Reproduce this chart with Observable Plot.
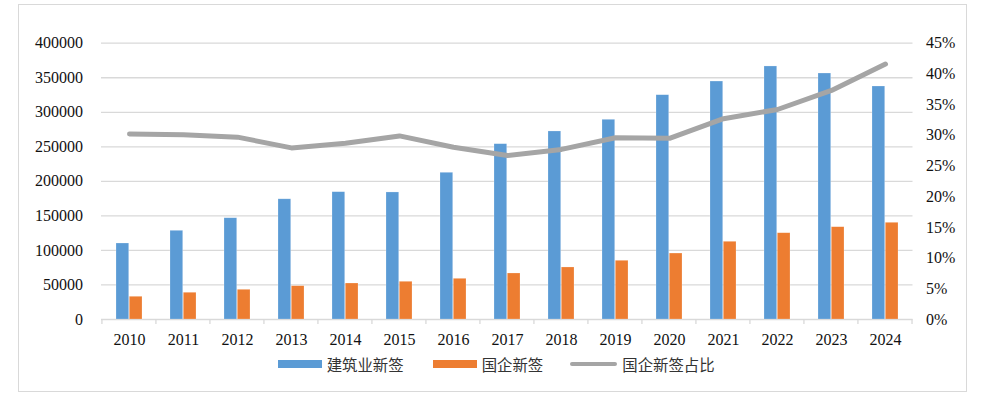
<!DOCTYPE html>
<html>
<head>
<meta charset="utf-8">
<script src="https://cdn.jsdelivr.net/npm/d3@7"></script>
<script src="https://cdn.jsdelivr.net/npm/@observablehq/plot@0.6"></script>
<style>
  html, body { margin: 0; padding: 0; background: #fff; }
  #frame { position: absolute; left: 18px; top: 4px; width: 949px; height: 388px; border: 1.3px solid #d9d9d9; box-sizing: border-box; }
  #chart { position: absolute; left: 0; top: 0; }
  #legend { position: absolute; left: 0; top: 352px; width: 989px; height: 24px; font-family: "Liberation Serif", "Noto Sans CJK SC", serif; font-size: 15.4px; color: #333; }
  .item { position: absolute; top: 0; height: 24px; display: flex; align-items: center; white-space: nowrap; }
  .sw { display: inline-block; margin-right: 5px; }
</style>
</head>
<body>
<div id="frame"></div>
<div id="chart"></div>
<div id="legend"></div>
<script>
const years = ["2010","2011","2012","2013","2014","2015","2016","2017","2018","2019","2020","2021","2022","2023","2024"];
const construction = [110000, 128400, 146600, 174000, 184300, 183900, 212400, 253800, 272200, 289100, 324700, 344500, 366300, 356100, 337300];
const soe = [32900, 38700, 43000, 48200, 52100, 54600, 58900, 66600, 75300, 85000, 95500, 112500, 124900, 133600, 140000];
const share = [30.2, 30.1, 29.7, 27.95, 28.7, 29.9, 28.05, 26.7, 27.7, 29.6, 29.5, 32.7, 34.2, 37.3, 41.6];
const leftTicks = [0, 50000, 100000, 150000, 200000, 250000, 300000, 350000, 400000];
const rightTicks = [0, 5, 10, 15, 20, 25, 30, 35, 40, 45];
const seriesNames = ["建筑业新签", "国企新签", "国企新签占比"];
const colors = ["#5b9bd5", "#ed7d31", "#a5a5a5"];

const leftMax = 400000, rightMax = 45;
const toLeft = p => p / rightMax * leftMax;

const rows = years.map((y, i) => ({year: y, a: construction[i], b: soe[i], s: toLeft(share[i])}));

const W = 989, H = 352;
const mL = 101, mR = 76.5, mT = 42.7, mB = 33;
const pIn = 0.52, pOut = 0.26;
const step = (W - mL - mR) / (years.length - pIn + 2 * pOut);
const bw = step * (1 - pIn);

const font = '"Liberation Serif", "Times New Roman", serif';

const plot = Plot.plot({
  width: W,
  height: H,
  marginLeft: mL,
  marginRight: mR,
  marginTop: mT,
  marginBottom: mB,
  style: {fontFamily: font, fontSize: "16px", color: "#111", background: "transparent"},
  x: {domain: years, paddingInner: pIn, paddingOuter: pOut, axis: null, label: null},
  y: {domain: [0, leftMax], axis: null, label: null},
  marks: [
    Plot.ruleY(leftTicks, {y: d => d, stroke: "#d9d9d9", strokeWidth: 1.3}),
    Plot.barY(rows, {x: "year", y: "a", fill: colors[0], insetRight: bw / 2 + 0.3, stroke: "#fff", strokeOpacity: 0.35, strokeWidth: 0.6}),
    Plot.barY(rows, {x: "year", y: "b", fill: colors[1], insetLeft: bw / 2 + 0.3, stroke: "#fff", strokeOpacity: 0.35, strokeWidth: 0.6}),
    Plot.line(rows, {x: "year", y: "s", stroke: colors[2], strokeWidth: 5, strokeLinejoin: "round", strokeLinecap: "round"}),
    Plot.axisX({domain: years, tickSize: 0, tickPadding: 14, fontSize: 16, fill: "#111", label: null}),
    // category boundary ticks
    Plot.ruleX(years, {x: d => d, stroke: "#d9d9d9", render: (index, scales, values, dims, context, next) => {
      const g = d3.create("svg:g");
      const y0 = scales.y(0);
      const xs = years.map(yy => scales.x(yy) + bw / 2 - step / 2);
      xs.push(scales.x(years[years.length - 1]) + bw / 2 + step / 2);
      g.selectAll("line").data(xs).join("line")
        .attr("x1", d => d).attr("x2", d => d)
        .attr("y1", y0).attr("y2", y0 + 5)
        .attr("stroke", "#d9d9d9").attr("stroke-width", 1.3);
      return g.node();
    }}),
    Plot.axisY({anchor: "left", ticks: leftTicks, tickSize: 0, tickPadding: 18.5, tickFormat: d => String(d), fontSize: 16, fill: "#111", label: null}),
    Plot.axisY({anchor: "right", ticks: rightTicks.map(toLeft), tickSize: 0, tickPadding: 13, tickFormat: d => Math.round(d / leftMax * rightMax) + "%", fontSize: 16, fill: "#111", label: null})
  ]
});
document.getElementById("chart").appendChild(plot);

// legend
const legend = document.getElementById("legend");
const lefts = [278.3, 433.3, 570];
seriesNames.forEach((name, i) => {
  const item = document.createElement("div");
  item.className = "item";
  item.style.left = lefts[i] + "px";
  const sw = document.createElement("span");
  sw.className = "sw";
  if (i < 2) {
    sw.style.width = "43.4px"; sw.style.height = "7.7px"; sw.style.background = colors[i];
  } else {
    sw.style.width = "47.3px"; sw.style.height = "4.8px"; sw.style.background = colors[i]; sw.style.borderRadius = "2.4px";
  }
  item.appendChild(sw);
  const t = document.createElement("span");
  t.textContent = name;
  item.appendChild(t);
  legend.appendChild(item);
});
</script>
</body>
</html>
